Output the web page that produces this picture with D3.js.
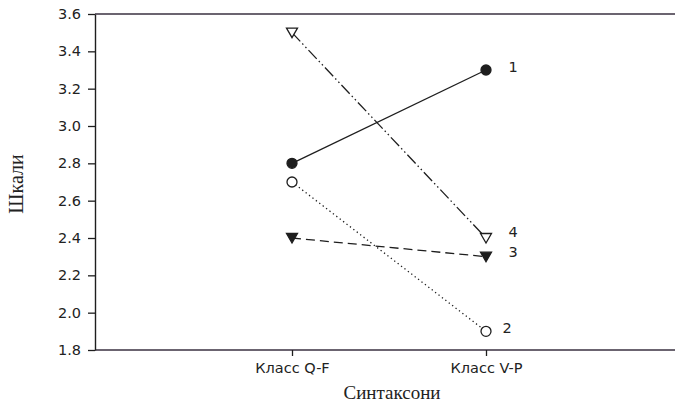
<!DOCTYPE html>
<html>
<head>
<meta charset="utf-8">
<script src="https://cdn.jsdelivr.net/npm/d3@7"></script>
<style>
body { margin: 0; background: #fff; }
svg { display: block; }
</style>
</head>
<body>
<svg id="chart" width="675" height="402"></svg>
<script>
const categories = ["Класс Q-F", "Класс V-P"];
const series1 = [2.8, 3.3];
const series2 = [2.7, 1.9];
const series3 = [2.4, 2.3];
const series4 = [3.5, 2.4];
const seriesLabels = ["1", "2", "3", "4"];
const yTicks = [1.8, 2.0, 2.2, 2.4, 2.6, 2.8, 3.0, 3.2, 3.4, 3.6];
const yTitle = "Шкали";
const xTitle = "Синтаксони";

(function () {
const svg = d3.select("#chart");
const ink = "#1e1e1e";
const txt = "#222";
const sans = "DejaVu Sans, Verdana, sans-serif";
const serif = "Liberation Serif, Times New Roman, serif";
const pL = 95, pR = 675, pT = 14, pB = 350;

const x = d3.scalePoint().domain(categories).range([98, 680]).padding(1);
const y = d3.scaleLinear().domain([1.8, 3.6]).range([pB, pT]);

// frame lines
svg.append("line").attr("x1", pL).attr("x2", pR).attr("y1", y(3.6)).attr("y2", y(3.6))
  .attr("stroke", "#3a3040").attr("stroke-width", 1.4);
svg.append("line").attr("x1", pL).attr("x2", pR).attr("y1", y(1.8)).attr("y2", y(1.8))
  .attr("stroke", "#3a3040").attr("stroke-width", 1.4);

// y axis
const yAxis = svg.append("g").attr("transform", `translate(${pL},0)`)
  .call(d3.axisLeft(y).tickValues(yTicks).tickFormat(d3.format(".1f")).tickSize(7).tickSizeOuter(0).tickPadding(7));
yAxis.select(".domain").attr("stroke", ink).attr("stroke-width", 1.4);
yAxis.selectAll(".tick line").attr("stroke", ink).attr("stroke-width", 1.3);
yAxis.selectAll("text").attr("font-family", sans).attr("font-size", 14.5).attr("fill", txt);

// x axis
const xAxis = svg.append("g").attr("transform", `translate(0,${pB})`)
  .call(d3.axisBottom(x).tickSize(6).tickSizeOuter(0).tickPadding(7));
xAxis.select(".domain").remove();
xAxis.selectAll(".tick line").attr("stroke", ink).attr("stroke-width", 1.3);
xAxis.selectAll("text").attr("font-family", sans).attr("font-size", 14.5).attr("fill", txt);

// titles
svg.append("text").attr("transform", `translate(23,184) rotate(-90)`)
  .attr("text-anchor", "middle").attr("font-family", serif)
  .attr("font-size", 20).attr("fill", txt).text(yTitle);
svg.append("text").attr("x", 392).attr("y", 399)
  .attr("text-anchor", "middle").attr("font-family", serif)
  .attr("font-size", 19).attr("fill", txt).text(xTitle);

const allSeries = [
  { vals: series1, dash: null, marker: "circle", fill: ink, label: seriesLabels[0], ldx: 27, ldy: -3 },
  { vals: series2, dash: "1.3,3", marker: "circle", fill: "#fff", label: seriesLabels[1], ldx: 21, ldy: -3 },
  { vals: series3, dash: "9,5", marker: "tri", fill: ink, label: seriesLabels[2], ldx: 27, ldy: -5 },
  { vals: series4, dash: "12,3,1.5,3,1.5,3", marker: "tri", fill: "#fff", label: seriesLabels[3], ldx: 27, ldy: -6 }
];

const line = d3.line().x((d, i) => x(categories[i])).y(d => y(d));

allSeries.forEach(s => {
  svg.append("path").datum(s.vals).attr("d", line)
    .attr("fill", "none").attr("stroke", ink).attr("stroke-width", 1.3)
    .attr("stroke-dasharray", s.dash);
  s.vals.forEach((v, i) => {
    const cx = x(categories[i]), cy = y(v);
    if (s.marker === "circle") {
      svg.append("circle").attr("cx", cx).attr("cy", cy).attr("r", 5)
        .attr("fill", s.fill).attr("stroke", ink).attr("stroke-width", 1.3);
    } else {
      svg.append("path").attr("d", `M${cx-5.5},${cy-4.5}L${cx+5.5},${cy-4.5}L${cx},${cy+5}Z`)
        .attr("fill", s.fill).attr("stroke", ink).attr("stroke-width", 1.3);
    }
  });
  const lx = x(categories[1]) + s.ldx, ly = y(s.vals[1]) + s.ldy;
  svg.append("text").attr("x", lx).attr("y", ly).attr("dy", "0.35em")
    .attr("text-anchor", "middle")
    .attr("font-family", sans).attr("font-size", 14.5)
    .attr("fill", txt).text(s.label);
});
})();
</script>
</body>
</html>
